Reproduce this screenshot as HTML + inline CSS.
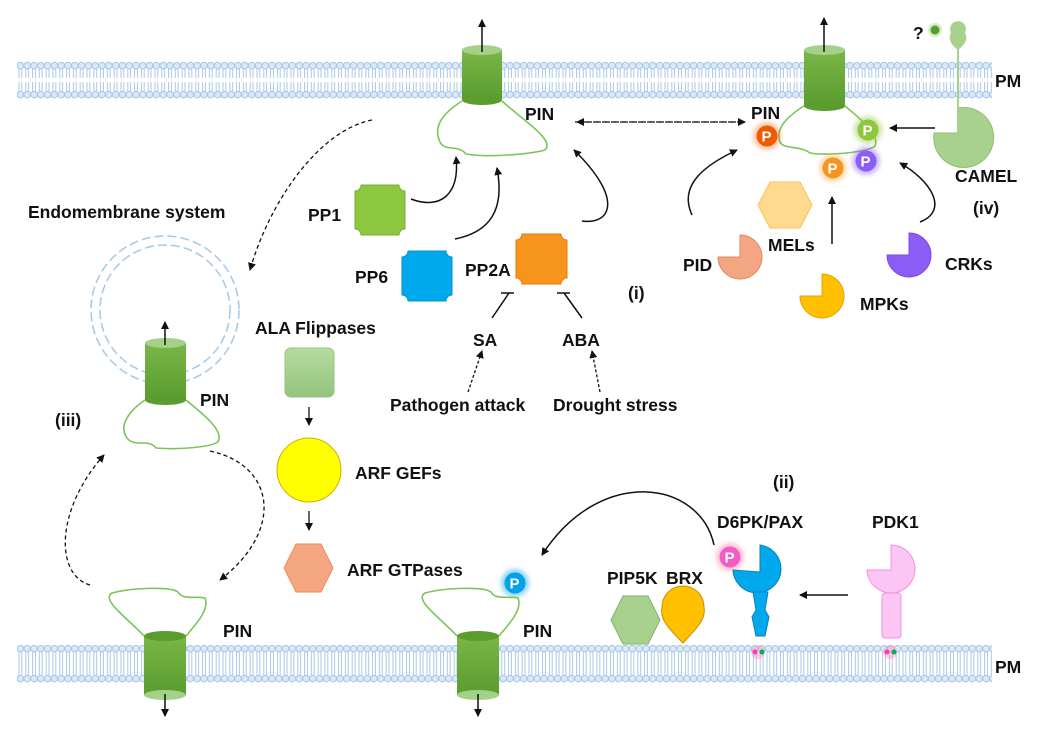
<!DOCTYPE html>
<html><head><meta charset="utf-8"><style>
body{margin:0;background:#fff}
svg text{font-family:"Liberation Sans",sans-serif;font-weight:bold;font-size:17.5px;fill:#111}
</style></head><body>
<svg width="1040" height="729" viewBox="0 0 1040 729" xmlns="http://www.w3.org/2000/svg">
<defs>
<pattern id="mem" x="17" y="0" width="6.8" height="40" patternUnits="userSpaceOnUse">
<line x1="2" y1="2" x2="2" y2="38" stroke="#a9c8e8" stroke-width="1"/>
<line x1="4.8" y1="2" x2="4.8" y2="38" stroke="#a9c8e8" stroke-width="1"/>
</pattern>
<pattern id="heads" x="17" y="0" width="6.8" height="40" patternUnits="userSpaceOnUse">
<circle cx="3.4" cy="3.6" r="3.3" fill="#dbe8f6" stroke="#a0c2e6" stroke-width="0.9"/>
</pattern>
<linearGradient id="cyl" x1="0" x2="0" y1="0" y2="1"><stop offset="0" stop-color="#7ab648"/><stop offset="1" stop-color="#5a9c2e"/></linearGradient>
<linearGradient id="lg" x1="0" x2="0" y1="0" y2="1"><stop offset="0" stop-color="#b7dba0"/><stop offset="1" stop-color="#93c47d"/></linearGradient>
<marker id="ah" markerWidth="8" markerHeight="8" refX="7" refY="4" orient="auto" markerUnits="userSpaceOnUse"><path d="M0,0 L8,4 L0,8 z" fill="#111"/></marker>
<filter id="glow" x="-1" y="-1" width="3" height="3"><feGaussianBlur stdDeviation="2.5"/></filter>
</defs>

<!-- membranes -->
<g>
<rect x="17" y="66" width="975" height="30" fill="url(#mem)"/>
<g transform="translate(0,62)"><rect x="17" y="0" width="975" height="8" fill="url(#heads)"/></g>
<g transform="translate(0,91)"><rect x="17" y="0" width="975" height="8" fill="url(#heads)"/></g>
<rect x="17" y="650" width="975" height="30" fill="url(#mem)"/>
<g transform="translate(0,645)"><rect x="17" y="0" width="975" height="8" fill="url(#heads)"/></g>
<g transform="translate(0,675)"><rect x="17" y="0" width="975" height="8" fill="url(#heads)"/></g>
</g>
<text x="995" y="87">PM</text>
<text x="995" y="673">PM</text>

<!-- Top centre PIN -->
<path d="M462,101 C445,112 432,125 440,142 C445,152 458,144 466,154 C490,158 530,154 545,150 C556,140 520,118 502,101" fill="#fff" stroke="#7cc45a" stroke-width="1.6"/>
<rect x="462" y="50" width="40" height="50" fill="url(#cyl)"/>
<ellipse cx="482" cy="100" rx="20" ry="5" fill="#5a9c2e"/>
<ellipse cx="482" cy="50" rx="20" ry="5" fill="#a5d08a"/>
<line x1="482" y1="52" x2="482" y2="20" stroke="#111" stroke-width="1.5" marker-end="url(#ah)"/>
<text x="525" y="120">PIN</text>

<!-- Right PIN -->
<path d="M804,106 C788,116 775,128 780,142 C784,150 800,145 810,153 C830,156 868,152 875,146 C880,135 862,120 845,106" fill="#fff" stroke="#7cc45a" stroke-width="1.6"/>
<rect x="804" y="50" width="41" height="56" fill="url(#cyl)"/>
<ellipse cx="824.5" cy="106" rx="20.5" ry="5" fill="#5a9c2e"/>
<ellipse cx="824.5" cy="50" rx="20.5" ry="5" fill="#a5d08a"/>
<line x1="824" y1="52" x2="824" y2="18" stroke="#111" stroke-width="1.5" marker-end="url(#ah)"/>
<text x="751" y="119">PIN</text>
<line x1="575" y1="122" x2="745" y2="122" stroke="#111" stroke-width="1.3" stroke-dasharray="5,4" marker-end="url(#ah)"/>
<line x1="745" y1="122" x2="577" y2="122" stroke="#111" stroke-width="1.3" stroke-dasharray="5,4" marker-end="url(#ah)"/>

<!-- P circles -->
<g>
<circle cx="767" cy="136" r="14" fill="#f05a00" opacity="0.35" filter="url(#glow)"/><circle cx="767" cy="136" r="10.5" fill="#f05a00"/><text x="761.5" y="141.5" style="fill:#fff;font-size:15px">P</text>
<circle cx="868" cy="130" r="14" fill="#8dc63f" opacity="0.45" filter="url(#glow)"/><circle cx="868" cy="130" r="10.5" fill="#8dc63f"/><text x="862.5" y="135.5" style="fill:#fff;font-size:15px">P</text>
<circle cx="833" cy="168" r="14" fill="#f7941d" opacity="0.35" filter="url(#glow)"/><circle cx="833" cy="168" r="10.5" fill="#f7941d"/><text x="827.5" y="173.5" style="fill:#fff;font-size:15px">P</text>
<circle cx="866" cy="161" r="14" fill="#8b5cf6" opacity="0.45" filter="url(#glow)"/><circle cx="866" cy="161" r="10.5" fill="#8b5cf6"/><text x="860.5" y="166.5" style="fill:#fff;font-size:15px">P</text>
<circle cx="515" cy="583" r="14" fill="#00a2e8" opacity="0.45" filter="url(#glow)"/><circle cx="515" cy="583" r="10.5" fill="#00a2e8"/><text x="509.5" y="588.5" style="fill:#fff;font-size:15px">P</text>
<circle cx="730" cy="557" r="14" fill="#f36" opacity="0.3" filter="url(#glow)"/><circle cx="730" cy="557" r="10.5" fill="#f55bc6"/><text x="724.5" y="562.5" style="fill:#fff;font-size:15px">P</text>
</g>

<!-- CAMEL -->
<path d="M934,133 A30,30 0 1 0 958,108 L958,133 Z" fill="#a9d18e" stroke="#8cc06e"/>
<line x1="958" y1="45" x2="958" y2="133" stroke="#a9d18e" stroke-width="2"/>
<path d="M958,50 C950,44 948,38 951,33 A8,8 0 1 1 965,33 C968,38 966,44 958,50 Z" fill="#a9d18e"/>
<line x1="935" y1="128" x2="890" y2="128" stroke="#111" stroke-width="1.5" marker-end="url(#ah)"/>
<text x="955" y="182">CAMEL</text>
<text x="973" y="214">(iv)</text>
<text x="913" y="39">?</text>
<circle cx="935" cy="30" r="7" fill="#b6e39a" opacity="0.6"/><circle cx="935" cy="30" r="4.5" fill="#5a9c2e"/>

<!-- MELs etc -->
<polygon points="770,182 800,182 812,205 800,228 770,228 758,205" fill="#ffd98e" stroke="#f9c15b"/>
<text x="768" y="251">MELs</text>
<path d="M740,257 L740,235 A22,22 0 1 1 718,257 Z" fill="#f4a582" stroke="#e38a66"/>
<text x="683" y="271">PID</text>
<path d="M822,296 L822,274 A22,22 0 1 1 800,296 Z" fill="#ffc000" stroke="#e0a800"/>
<text x="860" y="310">MPKs</text>
<path d="M909,255 L909,233 A22,22 0 1 1 887,255 Z" fill="#8b5cf6" stroke="#7a4be0"/>
<text x="945" y="270">CRKs</text>
<path d="M692,215 C678,185 705,165 737,150" fill="none" stroke="#111" stroke-width="1.5" marker-end="url(#ah)"/>
<line x1="832" y1="244" x2="832" y2="197" stroke="#111" stroke-width="1.5" marker-end="url(#ah)"/>
<path d="M920,222 C950,210 930,180 900,163" fill="none" stroke="#111" stroke-width="1.5" marker-end="url(#ah)"/>

<!-- phosphatases -->
<path d="M361,185 L399,185 A6,6 0 0 0 405,191 L405,229 A6,6 0 0 0 399,235 L361,235 A6,6 0 0 0 355,229 L355,191 A6,6 0 0 0 361,185 Z" fill="#8dc63f" stroke="#79b03a"/>
<text x="308" y="221">PP1</text>
<path d="M408,251 L446,251 A6,6 0 0 0 452,257 L452,295 A6,6 0 0 0 446,301 L408,301 A6,6 0 0 0 402,295 L402,257 A6,6 0 0 0 408,251 Z" fill="#00a8ec" stroke="#0090d0"/>
<text x="355" y="283">PP6</text>
<path d="M522,234 L561,234 A6,6 0 0 0 567,240 L567,278 A6,6 0 0 0 561,284 L522,284 A6,6 0 0 0 516,278 L516,240 A6,6 0 0 0 522,234 Z" fill="#f7941d" stroke="#e07f10"/>
<text x="465" y="276">PP2A</text>
<path d="M411,199 C440,210 460,195 456,157" fill="none" stroke="#111" stroke-width="1.5" marker-end="url(#ah)"/>
<path d="M455,239 C490,232 505,210 497,168" fill="none" stroke="#111" stroke-width="1.5" marker-end="url(#ah)"/>
<path d="M582,221 C610,225 625,200 574,150" fill="none" stroke="#111" stroke-width="1.5" marker-end="url(#ah)"/>
<text x="628" y="299">(i)</text>
<line x1="501" y1="293" x2="514" y2="293" stroke="#111" stroke-width="1.5"/>
<line x1="492" y1="318" x2="509" y2="293" stroke="#111" stroke-width="1.5"/>
<line x1="557" y1="293" x2="570" y2="293" stroke="#111" stroke-width="1.5"/>
<line x1="582" y1="318" x2="564" y2="293" stroke="#111" stroke-width="1.5"/>
<text x="473" y="346">SA</text>
<text x="562" y="346">ABA</text>
<line x1="468" y1="392" x2="482" y2="351" stroke="#111" stroke-width="1.3" stroke-dasharray="3,2" marker-end="url(#ah)"/>
<line x1="600" y1="392" x2="592" y2="351" stroke="#111" stroke-width="1.3" stroke-dasharray="3,2" marker-end="url(#ah)"/>
<text x="390" y="411">Pathogen attack</text>
<text x="553" y="411">Drought stress</text>

<!-- Endomembrane -->
<text x="28" y="218">Endomembrane system</text>
<circle cx="165" cy="310" r="74" fill="none" stroke="#a9cbe8" stroke-width="1.6" stroke-dasharray="9,4"/>
<circle cx="165" cy="310" r="65" fill="none" stroke="#a9cbe8" stroke-width="1.6" stroke-dasharray="9,4"/>
<path d="M145,400 C130,410 118,425 127,438 C135,448 148,438 156,448 C180,450 210,447 218,442 C225,430 200,412 186,400" fill="#fff" stroke="#7cc45a" stroke-width="1.6"/>
<rect x="145" y="343" width="41" height="57" fill="url(#cyl)"/>
<ellipse cx="165.5" cy="400" rx="20.5" ry="5" fill="#5a9c2e"/>
<ellipse cx="165.5" cy="343" rx="20.5" ry="5" fill="#a5d08a"/>
<line x1="165" y1="345" x2="165" y2="322" stroke="#111" stroke-width="1.5" marker-end="url(#ah)"/>
<text x="200" y="406">PIN</text>
<text x="55" y="426">(iii)</text>
<path d="M372,120 C320,130 270,200 250,270" fill="none" stroke="#111" stroke-width="1.3" stroke-dasharray="4,3" marker-end="url(#ah)"/>
<path d="M90,585 C55,575 55,510 104,455" fill="none" stroke="#111" stroke-width="1.3" stroke-dasharray="4,3" marker-end="url(#ah)"/>
<path d="M210,451 C275,465 285,530 220,580" fill="none" stroke="#111" stroke-width="1.3" stroke-dasharray="4,3" marker-end="url(#ah)"/>

<!-- ALA/ARF -->
<text x="255" y="334">ALA Flippases</text>
<rect x="285" y="348" width="49" height="49" rx="6" fill="url(#lg)" stroke="#93c47d"/>
<line x1="309" y1="407" x2="309" y2="425" stroke="#111" stroke-width="1.3" marker-end="url(#ah)"/>
<circle cx="309" cy="470" r="32" fill="#ffff00" stroke="#d4b000"/>
<text x="355" y="479">ARF GEFs</text>
<line x1="309" y1="511" x2="309" y2="530" stroke="#111" stroke-width="1.3" marker-end="url(#ah)"/>
<polygon points="296,544 321,544 333,568 321,592 296,592 284,568" fill="#f4a582" stroke="#f08a55"/>
<text x="347" y="576">ARF GTPases</text>

<!-- bottom PINs -->
<path d="M144,636 C130,620 100,600 112,593 C130,588 170,586 178,592 C182,600 195,596 205,598 C210,610 195,625 186,636" fill="#fff" stroke="#7cc45a" stroke-width="1.6"/>
<rect x="144" y="636" width="42" height="59" fill="url(#cyl)"/>
<ellipse cx="165" cy="636" rx="21" ry="5" fill="#5a9c2e"/>
<ellipse cx="165" cy="695" rx="21" ry="5" fill="#a5d08a"/>
<line x1="165" y1="694" x2="165" y2="716" stroke="#111" stroke-width="1.5" marker-end="url(#ah)"/>
<text x="223" y="637">PIN</text>
<path d="M457,636 C443,620 413,600 425,593 C443,588 483,586 491,592 C495,600 508,596 518,598 C523,610 508,625 499,636" fill="#fff" stroke="#7cc45a" stroke-width="1.6"/>
<rect x="457" y="636" width="42" height="59" fill="url(#cyl)"/>
<ellipse cx="478" cy="636" rx="21" ry="5" fill="#5a9c2e"/>
<ellipse cx="478" cy="695" rx="21" ry="5" fill="#a5d08a"/>
<line x1="478" y1="694" x2="478" y2="716" stroke="#111" stroke-width="1.5" marker-end="url(#ah)"/>
<text x="523" y="637">PIN</text>

<!-- ii -->
<path d="M714,545 C700,480 600,465 542,555" fill="none" stroke="#111" stroke-width="1.5" marker-end="url(#ah)"/>
<text x="773" y="488">(ii)</text>
<text x="607" y="584">PIP5K</text>
<text x="666" y="584">BRX</text>
<polygon points="623,596 648,596 660,620 648,644 623,644 611,620" fill="#a9d18e" stroke="#7fb36a"/>
<path d="M683,643 C665,625 660,618 662,607 A21,21 0 1 1 704,607 C706,618 700,625 683,643 Z" fill="#ffc000" stroke="#d08a00"/>
<text x="717" y="528">D6PK/PAX</text>
<path d="M760,572 L760,545 A24,24 0 1 1 733,570 Z" fill="#00a8ec" stroke="#0a7fbf"/>
<path d="M753,592 L768,592 L765,610 L769,617 L765,636 L756,636 L752,617 L756,610 Z" fill="#00a8ec" stroke="#0a7fbf"/>
<text x="872" y="528">PDK1</text>
<path d="M891,570 L891,545 A24,24 0 1 1 867,570 Z" fill="#fcc6f4" stroke="#f58ee0"/>
<rect x="882" y="593" width="19" height="45" rx="3" fill="#fcc6f4" stroke="#f58ee0"/>
<line x1="848" y1="595" x2="800" y2="595" stroke="#111" stroke-width="1.5" marker-end="url(#ah)"/>
<circle cx="758" cy="652" r="7" fill="#f8b" opacity="0.4"/><circle cx="755" cy="652" r="2.5" fill="#e4a"/><circle cx="762" cy="652" r="2.5" fill="#1a4"/>
<circle cx="890" cy="652" r="7" fill="#f8b" opacity="0.4"/><circle cx="887" cy="652" r="2.5" fill="#e4a"/><circle cx="894" cy="652" r="2.5" fill="#1a4"/>
</svg>
</body></html>
